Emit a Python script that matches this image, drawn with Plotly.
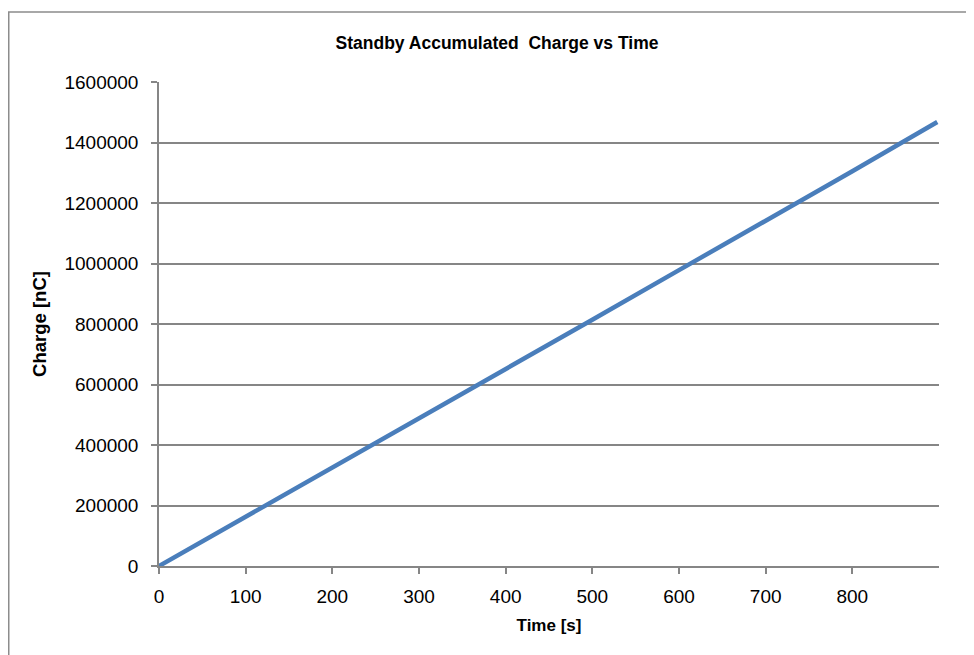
import plotly.graph_objects as go

time_s = [0, 100, 200, 300, 400, 500, 600, 700, 800, 898]
charge_nC = [0, 162000, 325000, 488000, 651000, 814000, 978000, 1141000, 1305000, 1468000]

x_ticks = [0, 100, 200, 300, 400, 500, 600, 700, 800]
y_ticks = [0, 200000, 400000, 600000, 800000, 1000000, 1200000, 1400000, 1600000]

# the page renders the figure with an 8px offset; compensate in the margins
W, H = 974, 655
OFF = 8
L, T = 159 - OFF, 82 - OFF
R = W - (939 - OFF)
B = H - (566 - OFF)
pw, ph = W - L - R, H - T - B

grid = "#868686"
font_main = "Liberation Sans, Arial, sans-serif"

fig = go.Figure()
fig.add_trace(go.Scatter(x=time_s, y=charge_nC, mode="lines",
                         line=dict(color="#4a7ebb", width=4.5),
                         showlegend=False, hoverinfo="x+y"))

fig.update_layout(
    width=W, height=H,
    margin=dict(l=L, r=R, t=T, b=B),
    paper_bgcolor="white", plot_bgcolor="white",
    font=dict(family=font_main, size=19, color="black"),
    title=dict(text="<b>Standby Accumulated\u00a0 Charge vs Time</b>",
               x=(497 - OFF) / W, xanchor="center", xref="container",
               y=1 - (43 - OFF) / H, yanchor="middle", yref="container",
               font=dict(family=font_main, size=17.5, color="black")),
    xaxis=dict(range=[0, 900], tickvals=x_ticks, ticktext=[str(v) for v in x_ticks],
               showgrid=False, zeroline=False,
               showline=True, linecolor=grid, linewidth=1.5,
               ticks="outside", ticklen=6, tickcolor=grid, tickwidth=1.5,
               ticklabelstandoff=6,
               title=dict(text="<b>Time [s]</b>", standoff=14,
                          font=dict(family=font_main, size=17))),
    yaxis=dict(range=[0, 1600000], tickvals=y_ticks, tickformat="d",
               showgrid=True, gridcolor=grid, gridwidth=1.5, zeroline=False,
               showline=True, linecolor=grid, linewidth=1.5,
               ticks="outside", ticklen=6, tickcolor=grid, tickwidth=1.5,
               ticklabelstandoff=9,
               title=dict(text="<b>Charge [nC]</b>", standoff=13,
                          font=dict(family=font_main, size=18.5))),
)

# outer chart-area border (left and top edges visible; right/bottom off-canvas)
fig.add_shape(type="rect", xref="paper", yref="paper",
              x0=(0.75 - L) / pw, x1=(W + 20 - L) / pw,
              y0=-(B + 20) / ph, y1=(H - (12 - OFF) - B) / ph,
              line=dict(color="#8c8c8c", width=1.5), fillcolor="rgba(0,0,0,0)",
              layer="below")

fig.write_html("out.html")
